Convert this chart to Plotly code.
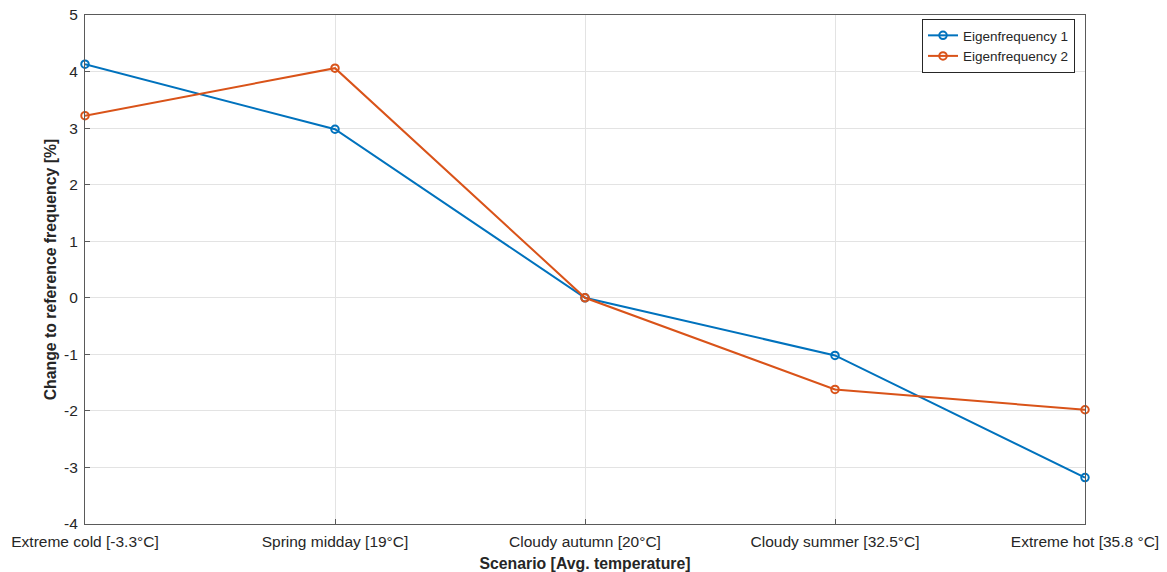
import plotly.graph_objects as go

categories = ["Extreme cold [-3.3°C]", "Spring midday [19°C]", "Cloudy autumn [20°C]",
              "Cloudy summer [32.5°C]", "Extreme hot [35.8 °C]"]
eig1 = [4.13, 2.98, 0.0, -1.02, -3.18]
eig2 = [3.22, 4.06, 0.0, -1.62, -1.98]
yticks = [-4, -3, -2, -1, 0, 1, 2, 3, 4, 5]
ytick_labels = ["-4", "-3", "-2", "-1", "0", "1", "2", "3", "4", "5"]

xs = list(range(len(categories)))
font = "Liberation Sans, Arial, Helvetica, sans-serif"

fig = go.Figure()
fig.add_trace(go.Scatter(x=xs, y=eig1, mode="lines+markers", name="Eigenfrequency 1",
                         line=dict(color="#0072BD", width=2),
                         marker=dict(symbol="circle-open", size=7.5, color="#0072BD", line=dict(width=2)),
                         cliponaxis=False))
fig.add_trace(go.Scatter(x=xs, y=eig2, mode="lines+markers", name="Eigenfrequency 2",
                         line=dict(color="#D95319", width=2),
                         marker=dict(symbol="circle-open", size=7.5, color="#D95319", line=dict(width=2)),
                         cliponaxis=False))

axis_common = dict(showline=True, mirror=True, linecolor="#5a5a5a", linewidth=1,
                   ticks="inside", ticklen=5, tickcolor="#5a5a5a", automargin=False,
                   showgrid=True, gridcolor="#e3e3e3", gridwidth=1, zeroline=False,
                   tickfont=dict(family=font, size=15.5, color="#262626"))

fig.update_layout(
    width=1167, height=572,
    margin=dict(l=85, r=82, t=15, b=48),
    plot_bgcolor="white", paper_bgcolor="white",
    xaxis=dict(range=[0, 4], tickvals=xs, ticktext=categories, ticklabelstandoff=3,
               title=dict(text="<b>Scenario [Avg. temperature]</b>", standoff=9,
                          font=dict(family=font, size=15.8, color="#262626")),
               **axis_common),
    yaxis=dict(range=[-4, 5], tickvals=yticks, ticktext=ytick_labels, ticklabelstandoff=3,
               title=dict(text="<b>Change to reference frequency [%]</b>", standoff=3,
                          font=dict(family=font, size=15.8, color="#262626")),
               **axis_common),
    legend=dict(x=0.99, y=0.992, xanchor="right", yanchor="top",
                bgcolor="white", bordercolor="#262626", borderwidth=1,
                font=dict(family=font, size=13.5, color="#262626"),
                tracegroupgap=0, itemwidth=30),
    showlegend=True,
)

fig.write_html("out.html")
